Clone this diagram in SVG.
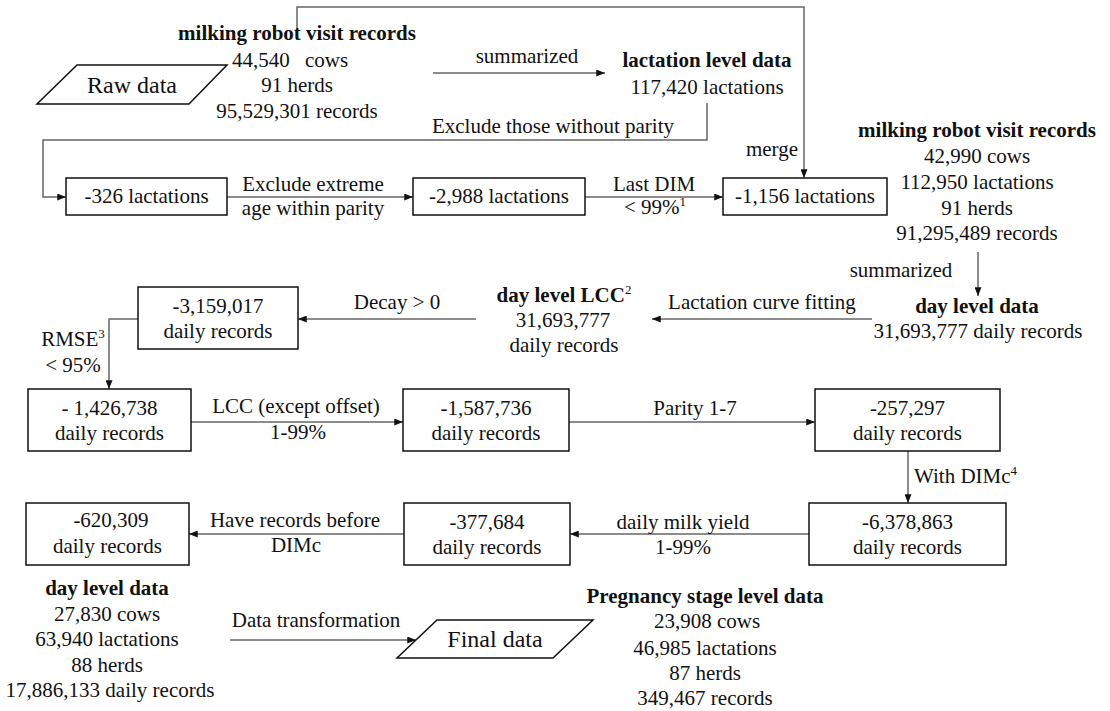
<svg xmlns="http://www.w3.org/2000/svg" width="1110" height="711" viewBox="0 0 1110 711">
<style>
text{font-family:"Liberation Serif","Times New Roman",serif;font-size:21px;fill:#111}
.c{text-anchor:middle}
.e{text-anchor:end}
.b{font-weight:bold}
.big{font-size:24px}
.sup{font-size:13px;font-weight:normal}
.box{fill:#fff;stroke:#111;stroke-width:1.5}
.conn path{fill:none;stroke:#666;stroke-width:1.5}
</style>
<defs>
<marker id="ah" viewBox="0 0 10 8" refX="10" refY="4" markerWidth="9" markerHeight="7" markerUnits="userSpaceOnUse" orient="auto"><path d="M0,0 L10,4 L0,8 z" fill="#111"/></marker>
</defs>
<rect width="1110" height="711" fill="#fff"/>

<g id="connectors" class="conn">
<path d="M297,29 V7 H804 V178" marker-end="url(#ah)"/>
<path d="M433,73 H605" marker-end="url(#ah)"/>
<path d="M707,103 V140 H43 V197 H66" marker-end="url(#ah)"/>
<path d="M227,197 H413" marker-end="url(#ah)"/>
<path d="M585,197 H723" marker-end="url(#ah)"/>
<path d="M978,252 V296" marker-end="url(#ah)"/>
<path d="M872,319 H652" marker-end="url(#ah)"/>
<path d="M476,319 H298" marker-end="url(#ah)"/>
<path d="M138,319 H109 V389" marker-end="url(#ah)"/>
<path d="M191,422 H403" marker-end="url(#ah)"/>
<path d="M569,422 H815" marker-end="url(#ah)"/>
<path d="M908,451 V503" marker-end="url(#ah)"/>
<path d="M809,534 H570" marker-end="url(#ah)"/>
<path d="M404,534 H189" marker-end="url(#ah)"/>
<path d="M230,640 H416" marker-end="url(#ah)"/>
</g>

<g id="edge-labels">
<text class="c" x="527" y="63">summarized</text>
<text class="c" x="553" y="133">Exclude those without parity</text>
<text class="c" x="313" y="191">Exclude extreme</text>
<text class="c" x="313" y="215">age within parity</text>
<text class="c" x="654" y="191">Last DIM</text>
<text class="c" x="655" y="214">&lt; 99%<tspan class="sup" dy="-8">1</tspan></text>
<text class="e" x="798" y="156">merge</text>
<text class="c" x="901" y="277">summarized</text>
<text class="c" x="762" y="309">Lactation curve fitting</text>
<text class="c" x="397" y="309">Decay &gt; 0</text>
<text class="c" x="73" y="346">RMSE<tspan class="sup" dy="-8">3</tspan></text>
<text class="c" x="73" y="372">&lt; 95%</text>
<text class="c" x="296" y="413">LCC (except offset)</text>
<text class="c" x="298" y="439">1-99%</text>
<text class="c" x="695" y="415">Parity 1-7</text>
<text x="914" y="483">With DIMc<tspan class="sup" dy="-8">4</tspan></text>
<text class="c" x="683" y="529">daily milk yield</text>
<text class="c" x="683" y="554">1-99%</text>
<text class="c" x="295" y="527">Have records before</text>
<text class="c" x="296" y="552">DIMc</text>
<text class="c" x="316" y="627">Data transformation</text>
</g>

<g id="raw-data">
<polygon class="box" points="77,65 227,65 189,104 37,104"/>
<text class="c big" x="132" y="93">Raw data</text>
</g>

<g id="raw-records">
<text class="c b" x="297" y="40">milking robot visit records</text>
<text class="c" x="290" y="67" word-spacing="10">44,540 cows</text>
<text class="c" x="297" y="92">91 herds</text>
<text class="c" x="297" y="118">95,529,301 records</text>
</g>

<g id="lactation-level">
<text class="c b" x="707" y="67">lactation level data</text>
<text class="c" x="707" y="94">117,420 lactations</text>
</g>

<g id="n326">
<rect class="box" x="66" y="178" width="161" height="37"/>
<text class="c" x="146.5" y="203">-326 lactations</text>
</g>

<g id="n2988">
<rect class="box" x="413" y="178" width="172" height="37"/>
<text class="c" x="499" y="203">-2,988 lactations</text>
</g>

<g id="n1156">
<rect class="box" x="723" y="178" width="164" height="37"/>
<text class="c" x="805" y="203">-1,156 lactations</text>
</g>

<g id="merged-records">
<text class="c b" x="977" y="137">milking robot visit records</text>
<text class="c" x="977" y="163">42,990 cows</text>
<text class="c" x="977" y="189">112,950 lactations</text>
<text class="c" x="977" y="215">91 herds</text>
<text class="c" x="977" y="240">91,295,489 records</text>
</g>

<g id="day-level-data">
<text class="c b" x="977" y="313">day level data</text>
<text class="c" x="978" y="338">31,693,777 daily records</text>
</g>

<g id="day-level-lcc">
<text class="c b" x="564" y="302">day level LCC<tspan class="sup" dy="-8">2</tspan></text>
<text class="c" x="563" y="327">31,693,777</text>
<text class="c" x="564" y="352">daily records</text>
</g>

<g id="n3159017">
<rect class="box" x="138" y="287" width="160" height="62"/>
<text class="c" x="218" y="313">-3,159,017</text>
<text class="c" x="218" y="338">daily records</text>
</g>

<g id="n1426738">
<rect class="box" x="28" y="389" width="163" height="62"/>
<text class="c" x="109.5" y="415">- 1,426,738</text>
<text class="c" x="109.5" y="440">daily records</text>
</g>

<g id="n1587736">
<rect class="box" x="403" y="389" width="166" height="62"/>
<text class="c" x="486" y="415">-1,587,736</text>
<text class="c" x="486" y="440">daily records</text>
</g>

<g id="n257297">
<rect class="box" x="815" y="389" width="185" height="62"/>
<text class="c" x="907.5" y="415">-257,297</text>
<text class="c" x="907.5" y="440">daily records</text>
</g>

<g id="n6378863">
<rect class="box" x="809" y="503" width="197" height="62"/>
<text class="c" x="907.5" y="529">-6,378,863</text>
<text class="c" x="907.5" y="554">daily records</text>
</g>

<g id="n377684">
<rect class="box" x="404" y="503" width="166" height="62"/>
<text class="c" x="487" y="529">-377,684</text>
<text class="c" x="487" y="554">daily records</text>
</g>

<g id="n620309">
<rect class="box" x="26" y="503" width="163" height="62"/>
<text class="c" x="111" y="527">-620,309</text>
<text class="c" x="107.5" y="553">daily records</text>
</g>

<g id="final-day-level">
<text class="c b" x="107" y="595">day level data</text>
<text class="c" x="107" y="621">27,830 cows</text>
<text class="c" x="107" y="646">63,940 lactations</text>
<text class="c" x="107" y="672">88 herds</text>
<text class="c" x="110" y="697">17,886,133 daily records</text>
</g>

<g id="final-data">
<polygon class="box" points="437,620 593,620 553,658 397,658"/>
<text class="c big" x="495" y="647">Final data</text>
</g>

<g id="pregnancy-level">
<text class="c b" x="705" y="603">Pregnancy stage level data</text>
<text class="c" x="707" y="628">23,908 cows</text>
<text class="c" x="705" y="655">46,985 lactations</text>
<text class="c" x="705" y="680">87 herds</text>
<text class="c" x="705" y="705">349,467 records</text>
</g>
</svg>
